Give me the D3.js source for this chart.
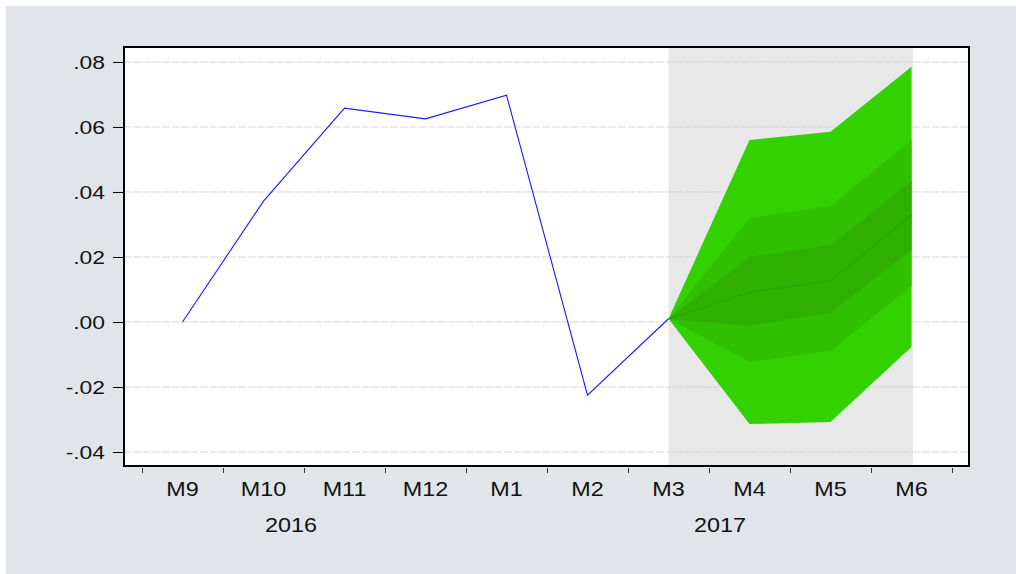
<!DOCTYPE html>
<html>
<head>
<meta charset="utf-8">
<script src="https://cdn.jsdelivr.net/npm/d3@7"></script>
<style>
  body { margin: 0; background: #fff; }
  text { font-family: "Liberation Sans", Arial, sans-serif; fill: #111; }
</style>
</head>
<body>
<div class="chart"></div>
<script>
// months on the x axis
const months = ['M9', 'M10', 'M11', 'M12', 'M1', 'M2', 'M3', 'M4', 'M5', 'M6']
const years = ['2016', '2017']
const yearAnchor = ['M10', 'M3']

// actual series (blue)
const actualMonths = ['M9', 'M10', 'M11', 'M12', 'M1', 'M2', 'M3']
const actualValues = [0.000, 0.0372, 0.0658, 0.0625, 0.0698, -0.0225, 0.001]

// forecast fan
const fanMonths = ['M3', 'M4', 'M5', 'M6']
const median = [0.001, 0.0092, 0.0126, 0.0329]
const outerLow = [0.001, -0.0314, -0.0308, -0.0077]
const outerHigh = [0.001, 0.0560, 0.0585, 0.0785]
const midLow = [0.001, -0.0123, -0.0089, 0.0111]
const midHigh = [0.001, 0.0320, 0.0357, 0.0560]
const innerLow = [0.001, -0.0012, 0.0028, 0.0222]
const innerHigh = [0.001, 0.0200, 0.0237, 0.0434]

const yTicks = [-0.04, -0.02, 0, 0.02, 0.04, 0.06, 0.08]

const W = 1016, H = 574
const plot = { left: 124, top: 47, right: 969, bottom: 466 }

const svg = d3.select('.chart')
  .append('svg')
  .attr('width', W)
  .attr('height', H)

// background
svg.append('rect')
  .attr('x', 6).attr('y', 6)
  .attr('width', W - 6).attr('height', H - 6)
  .attr('fill', '#e1e5e9')

svg.append('rect')
  .attr('x', plot.left).attr('y', plot.top)
  .attr('width', plot.right - plot.left).attr('height', plot.bottom - plot.top)
  .attr('fill', '#fff')

const xScale = d3.scaleBand()
  .domain(months)
  .range([142, 952])
  .padding(0)
const xc = m => xScale(m) + xScale.bandwidth() / 2

const yScale = d3.scaleLinear()
  .domain([-0.0443, 0.0846])
  .range([plot.bottom, plot.top])

// forecast shade
svg.append('rect')
  .attr('x', xc('M3'))
  .attr('y', plot.top)
  .attr('width', xc('M6') - xc('M3') + 1.5)
  .attr('height', plot.bottom - plot.top)
  .attr('fill', '#e8e8e8')

// gridlines
svg.append('g')
  .selectAll('line')
  .data(yTicks)
  .join('line')
  .attr('x1', plot.left).attr('x2', plot.right)
  .attr('y1', d => yScale(d)).attr('y2', d => yScale(d))
  .attr('stroke', '#d6d6d6')
  .attr('stroke-width', 1)
  .attr('stroke-dasharray', '8,1.5')

// fan bands
const band = (lo, hi) => d3.area()
  .x((d, i) => xc(fanMonths[i]))
  .y0((d, i) => yScale(lo[i]))
  .y1((d, i) => yScale(hi[i]))(fanMonths)

svg.append('path').attr('d', band(outerLow, outerHigh)).attr('fill', '#33d100')
svg.append('path').attr('d', band(midLow, midHigh)).attr('fill', '#30c000')
svg.append('path').attr('d', band(innerLow, innerHigh)).attr('fill', '#2fb000')

svg.append('path')
  .attr('d', d3.line()
    .x((d, i) => xc(fanMonths[i]))
    .y(d => yScale(d))(median))
  .attr('fill', 'none')
  .attr('stroke', '#2aa000')
  .attr('stroke-width', 1.2)

// actual line
svg.append('path')
  .attr('d', d3.line()
    .x((d, i) => xc(actualMonths[i]))
    .y(d => yScale(d))(actualValues))
  .attr('fill', 'none')
  .attr('stroke', '#1a1aff')
  .attr('stroke-width', 1.1)

// frame
svg.append('rect')
  .attr('x', plot.left).attr('y', plot.top)
  .attr('width', plot.right - plot.left).attr('height', plot.bottom - plot.top)
  .attr('fill', 'none')
  .attr('stroke', '#000')
  .attr('stroke-width', 2)

// y axis
const fmt = d => d3.format('.2f')(d).replace('\u2212', '-').replace('0.', '.')
const yAxis = svg.append('g')
  .attr('transform', `translate(${plot.left - 1},0)`)
  .call(d3.axisLeft(yScale).tickValues(yTicks).tickSize(10).tickFormat(fmt))
yAxis.select('.domain').remove()
yAxis.selectAll('line').attr('stroke', '#000')
yAxis.selectAll('text')
  .attr('x', 0)
  .attr('dy', '0.34em')
  .attr('transform', 'translate(-18,0) scale(1.27,1)')
  .style('font-size', '18px')
  .style('font-family', '"Liberation Sans", Arial, sans-serif')
  .attr('fill', '#111')

// x tick marks at month boundaries
const edge = d3.scaleLinear().domain([0, months.length]).range(xScale.range())
const xTickAxis = svg.append('g')
  .attr('transform', `translate(0,${plot.bottom + 2})`)
  .call(d3.axisBottom(edge).tickValues(d3.range(months.length + 1)).tickSize(5).tickFormat(''))
xTickAxis.select('.domain').remove()
xTickAxis.selectAll('line').attr('stroke', '#333')

// x labels
const xAxis = svg.append('g')
  .attr('transform', `translate(0,${plot.bottom})`)
  .call(d3.axisBottom(xScale).tickSize(0))
xAxis.select('.domain').remove()
xAxis.selectAll('text')
  .attr('y', 30)
  .attr('dy', 0)
  .attr('transform', 'scale(1.17,1)')
  .attr('x', 0)
  .style('font-size', '20px')
  .style('font-family', '"Liberation Sans", Arial, sans-serif')
  .attr('fill', '#111')
xAxis.selectAll('.tick')
  .attr('transform', d => `translate(${xc(d)},0)`)

// year labels (2016 sits left of the M10/M11 boundary, 2017 just right of M3/M4)
const yearShift = [-13, 11]
svg.append('g')
  .selectAll('text')
  .data(years)
  .join('text')
  .attr('transform', (d, i) => `translate(${xScale(yearAnchor[i]) + xScale.bandwidth() + yearShift[i]},${plot.bottom + 66}) scale(1.17,1)`)
  .attr('text-anchor', 'middle')
  .style('font-size', '20px')
  .text(d => d)
</script>
</body>
</html>
